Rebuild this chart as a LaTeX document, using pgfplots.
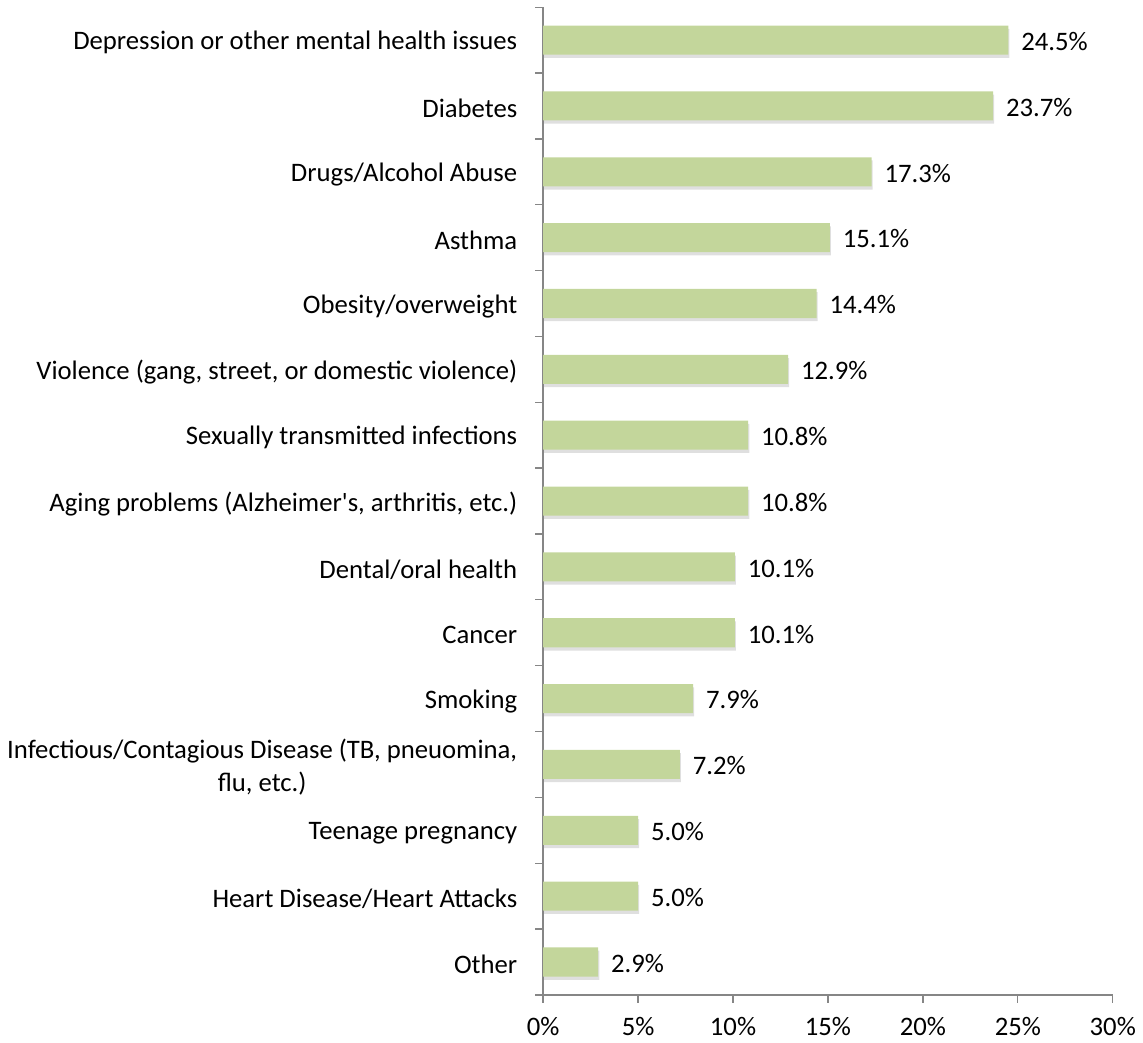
\documentclass[border=0pt]{standalone}
\usepackage{fontspec}
\setmainfont{Carlito}
\usepackage{pgfplots}
\pgfplotsset{compat=1.18}
\usetikzlibrary{shadows}
\definecolor{barfill}{RGB}{195,214,155}
\definecolor{axisgray}{RGB}{134,134,134}

\begin{document}
\begin{tikzpicture}
\begin{axis}[
    font=\fontsize{12.4}{15}\selectfont,
    scale only axis,
    width=264.7pt, height=459pt,
    xmin=0, xmax=30,
    ymin=-0.5, ymax=14.5,
    xbar, bar width=13.5pt,
    axis x line*=bottom,
    axis y line*=left,
    axis line style={draw=axisgray, line width=0.6pt},
    tick style={draw=axisgray, line width=0.6pt},
    tick align=outside,
    major tick length=3.7pt,
    xtick={0,5,...,30},
    xticklabels={0\%,5\%,10\%,15\%,20\%,25\%,30\%},
    ytick={-0.5,0.5,...,14.5},
    yticklabels={},
    extra y ticks={0,1,...,14},
    extra y tick labels={Other,Heart Disease/Heart Attacks,Teenage pregnancy,{Infectious/Contagious Disease (TB, pneuomina,\\flu, etc.)},Smoking,Cancer,Dental/oral health,{Aging problems (Alzheimer\textquotesingle s, arthritis, etc.)},Sexually transmitted infections,{Violence (gang, street, or domestic violence)},Obesity/overweight,Asthma,Drugs/Alcohol Abuse,Diabetes,Depression or other mental health issues},
    extra y tick style={major tick length=0pt, yticklabel style={align=center, xshift=-8.5pt, yshift=-1.2pt}},
    xticklabel style={yshift=-3pt},
    /pgf/number format/assume math mode=true,
    nodes near coords={\pgfmathprintnumber[fixed,fixed zerofill,precision=1]{\pgfplotspointmeta}\%},
    every node near coord/.append style={font=\fontsize{12.4}{15}\selectfont, xshift=2.5pt, yshift=-0.6pt},
    clip=false,
]
\addplot[fill=barfill, draw=none,
    drop shadow={shadow xshift=0.5pt, shadow yshift=-1.5pt, opacity=0.25}]
    coordinates {
    (2.9,0)(5.0,1)(5.0,2)(7.2,3)(7.9,4)(10.1,5)(10.1,6)(10.8,7)(10.8,8)(12.9,9)(14.4,10)(15.1,11)(17.3,12)(23.7,13)(24.5,14)
    };
\end{axis}
\end{tikzpicture}
\end{document}
